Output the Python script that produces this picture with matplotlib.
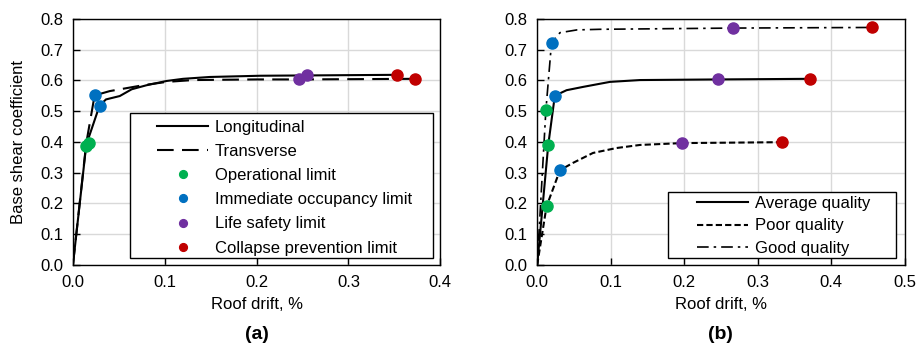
import matplotlib
matplotlib.use('Agg')
import matplotlib.pyplot as plt
from matplotlib.patches import Rectangle

# (a) pushover curves, longitudinal / transverse
long_x = [0.0, 0.0145, 0.029, 0.036, 0.051, 0.064, 0.080, 0.102, 0.120, 0.149, 0.204, 0.2545, 0.353]
long_y = [0.0, 0.390, 0.518, 0.538, 0.549, 0.571, 0.584, 0.598, 0.605, 0.611, 0.615, 0.616, 0.618]
trans_x = [0.0, 0.0145, 0.0236, 0.040, 0.076, 0.102, 0.131, 0.200, 0.2465, 0.3727]
trans_y = [0.0, 0.395, 0.551, 0.565, 0.584, 0.595, 0.601, 0.603, 0.603, 0.605]

# limit states (a): [longitudinal, transverse]
a_ol = ([0.0145, 0.017], [0.386, 0.397])
a_io = ([0.029, 0.0236], [0.518, 0.551])
a_ls = ([0.2545, 0.2465], [0.616, 0.603])
a_cp = ([0.353, 0.3727], [0.618, 0.605])

# (b) construction quality
avg_x = [0.0, 0.015, 0.024, 0.040, 0.063, 0.099, 0.140, 0.246, 0.371]
avg_y = [0.0, 0.389, 0.550, 0.568, 0.579, 0.595, 0.601, 0.603, 0.605]
poor_x = [0.0, 0.0127, 0.031, 0.049, 0.076, 0.108, 0.140, 0.197, 0.333]
poor_y = [0.0, 0.190, 0.308, 0.332, 0.364, 0.380, 0.390, 0.396, 0.399]
good_x = [0.0, 0.0118, 0.0195, 0.031, 0.054, 0.085, 0.267, 0.456]
good_y = [0.0, 0.502, 0.722, 0.755, 0.764, 0.766, 0.770, 0.772]

# limit states (b): [average, poor, good]
b_ol = ([0.015, 0.0127, 0.0118], [0.389, 0.190, 0.502])
b_io = ([0.024, 0.031, 0.0195], [0.550, 0.308, 0.722])
b_ls = ([0.246, 0.197, 0.267], [0.603, 0.396, 0.770])
b_cp = ([0.371, 0.333, 0.456], [0.605, 0.399, 0.772])

GREEN, BLUE, PURPLE, RED = '#00B050', '#0070C0', '#7030A0', '#C00000'

plt.rcParams['font.family'] = ['Liberation Sans', 'DejaVu Sans']
plt.rcParams['font.size'] = 12

fig = plt.figure(figsize=(9.23, 3.49), dpi=100)
ax1 = fig.add_axes([0.079, 0.241, 0.398, 0.705])
ax2 = fig.add_axes([0.582, 0.241, 0.398, 0.705])


def style(ax, xmax):
    ax.set_xlim(0, xmax)
    ax.set_ylim(0, 0.8)
    ax.set_xticks([i / 10 for i in range(int(round(xmax * 10)) + 1)])
    ax.set_yticks([i / 10 for i in range(9)])
    ax.xaxis.set_major_formatter(matplotlib.ticker.FormatStrFormatter('%.1f'))
    ax.yaxis.set_major_formatter(matplotlib.ticker.FormatStrFormatter('%.1f'))
    ax.grid(True, color='#d9d9d9', lw=1)
    ax.set_axisbelow(True)
    ax.tick_params(direction='in', length=5, width=1, pad=7)
    for s in ax.spines.values():
        s.set_color('black')
        s.set_linewidth(1)
    ax.set_xlabel('Roof drift, %', labelpad=5)


def boxed_legend(ax, box, anchor, spacing):
    ax.add_patch(Rectangle((box[0], box[1]), box[2], box[3], transform=ax.transAxes,
                           facecolor='white', edgecolor='black', lw=1, zorder=6))
    leg = ax.legend(loc='upper left', bbox_to_anchor=anchor, frameon=False,
                    handlelength=3.06, handletextpad=0.42, borderpad=0,
                    borderaxespad=0, labelspacing=spacing, markerscale=0.7)
    leg.set_zorder(7)
    return leg


style(ax1, 0.4)
ax1.plot(long_x, long_y, color='black', lw=1.5, label='Longitudinal')
ax1.plot(trans_x, trans_y, color='black', lw=1.5, ls=(0, (8, 4)), label='Transverse')
ms = 8
for (xs, ys), c, lab in [(a_ol, GREEN, 'Operational limit'),
                         (a_io, BLUE, 'Immediate occupancy limit'),
                         (a_ls, PURPLE, 'Life safety limit'),
                         (a_cp, RED, 'Collapse prevention limit')]:
    ax1.plot(xs, ys, 'o', color=c, ms=ms, ls='none', label=lab, zorder=5)
ax1.set_ylabel('Base shear coefficient', labelpad=10)
boxed_legend(ax1, (0.155, 0.028, 0.825, 0.59), (0.229, 0.590), 0.55)

style(ax2, 0.5)
ax2.plot(avg_x, avg_y, color='black', lw=1.5, label='Average quality')
ax2.plot(poor_x, poor_y, color='black', lw=1.5, ls=(0, (3, 1.5)), label='Poor quality')
ax2.plot(good_x, good_y, color='black', lw=1.2, ls=(0, (7, 3, 1.5, 3)), label='Good quality')
for (xs, ys), c in [(b_ol, GREEN), (b_io, BLUE), (b_ls, PURPLE), (b_cp, RED)]:
    ax2.plot(xs, ys, 'o', color=c, ms=ms, ls='none', zorder=5)
boxed_legend(ax2, (0.357, 0.028, 0.621, 0.269), (0.436, 0.280), 0.45)

fig.text(0.278, 0.03, '(a)', ha='center', fontsize=14, fontweight='bold')
fig.text(0.781, 0.03, '(b)', ha='center', fontsize=14, fontweight='bold')

fig.savefig('out.png', dpi=100)
